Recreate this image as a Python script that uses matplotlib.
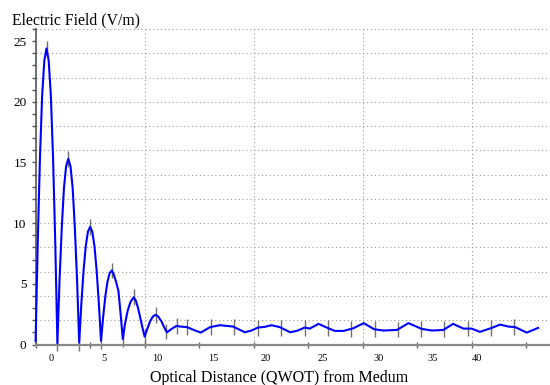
import matplotlib.pyplot as plt
import numpy as np

# field profile (x in QWOT, y in V/m)
dist = [0.0, 0.2, 0.4, 0.6, 0.8, 1.0, 1.2, 1.4, 1.6, 1.8, 2.0,
        2.2, 2.4, 2.6, 2.8, 3.0, 3.2, 3.4, 3.6, 3.8, 4.0,
        4.2, 4.4, 4.6, 4.8, 5.0, 5.2, 5.4, 5.6, 5.8, 6.0,
        6.2, 6.4, 6.6, 6.8, 7.0, 7.2, 7.4, 7.6, 7.8, 8.0,
        8.2, 8.45, 8.7, 9.0, 9.2, 9.4, 9.6, 9.8, 10.0,
        10.25, 10.5, 10.75, 11.0, 11.25, 11.55, 11.8, 12.05,
        12.5, 12.94, 13.25, 13.9, 14.5, 15.15, 16.0, 16.9, 18.1, 19.2,
        19.8, 20.4, 21.0, 21.65, 22.4, 23.35, 23.95, 24.7, 25.15, 25.95,
        26.85, 27.45, 28.25, 29.15, 30.1, 31.05, 31.9, 33.15, 34.2, 35.4,
        36.35, 37.4, 38.3, 39.25, 40.0, 40.75, 41.85, 42.6, 43.35, 44.0,
        45.05, 46.1]
field = [0.3, 8.5, 15.4, 20.5, 23.4, 24.4, 23.4, 20.5, 15.4, 8.5, 0.1,
         5.4, 9.6, 12.9, 14.7, 15.3, 14.7, 12.9, 9.6, 5.4, 0.15,
         3.4, 6.1, 8.1, 9.3, 9.7, 9.3, 8.1, 6.1, 3.4, 0.3,
         2.3, 4.0, 5.2, 5.9, 6.1, 5.7, 5.1, 4.4, 2.5, 0.45,
         1.7, 2.8, 3.5, 3.9, 3.6, 3.0, 2.2, 1.4, 0.65,
         1.3, 1.9, 2.3, 2.45, 2.3, 1.9, 1.4, 1.0,
         1.3, 1.54, 1.48, 1.43, 1.2, 0.98, 1.43, 1.59, 1.48, 1.01,
         1.15, 1.40, 1.45, 1.59, 1.43, 1.01, 1.12, 1.40, 1.31, 1.70,
         1.34, 1.12, 1.12, 1.34, 1.76, 1.26, 1.15, 1.20, 1.76, 1.29,
         1.15, 1.20, 1.70, 1.31, 1.31, 1.04, 1.37, 1.64, 1.48, 1.43,
         0.98, 1.37]

# layer boundaries (grey marks on the curve)
boundaries = [1, 2, 3, 4, 5, 6, 7, 8, 9, 10, 11, 12,
              12.94, 13.9, 16.07, 18.22, 20.37, 22.52, 24.67, 26.82, 28.97,
              31.1, 33.23, 35.37, 37.5, 39.64, 41.78, 43.92]

x_tick_labels = ['0', '5', '10', '15', '20', '25', '30', '35', '40']
y_tick_labels = ['0', '5', '10', '15', '20', '25']

# where the reference puts its x labels (shifted right of the tick marks)
x_label_pos = [1.39, 6.23, 11.19, 16.26, 21.08, 26.32, 31.51, 36.42, 40.51]

plt.rcParams['font.family'] = 'Liberation Serif'

fig = plt.figure(figsize=(5.5, 3.85), dpi=100)
ax = fig.add_axes([35.6 / 550, 40.5 / 385, 514 / 550, 315.5 / 385])
ax.set_xlim(0, 47.15)
ax.set_ylim(0, 26)

# dotted grid
grid_kw = dict(color='#9a9a9a', linestyle=(0, (1, 2.5)), linewidth=0.8, zorder=0)
for gy in range(2, 27, 2):
    ax.axhline(gy, **grid_kw)
for gx in range(10, 41, 10):
    ax.axvline(gx, **grid_kw)

# boundary marks
bx = np.array(boundaries, dtype=float)
by = np.interp(bx, dist, field)
ax.vlines(bx, by - 0.65, by + 0.65, color='#707070', linewidth=1.0,
          zorder=2, clip_on=False)

ax.plot(dist, field, color='#0000ff', linewidth=1.5, zorder=3, clip_on=False)

for s in ['top', 'right']:
    ax.spines[s].set_visible(False)
ax.spines['left'].set_color('#555555')
ax.spines['left'].set_linewidth(1.2)
ax.spines['bottom'].set_color('#888888')
ax.spines['bottom'].set_linewidth(1.6)

# y axis
ax.set_yticks(range(0, 26, 5))
ax.set_yticklabels(y_tick_labels)
ax.set_yticks(range(0, 27), minor=True)
ax.tick_params(axis='y', which='both', direction='out', length=3,
               width=1, color='#555555', labelsize=9.5, pad=3.5)

# x axis: tick marks at every 5, labels drawn where the reference has them
ax.set_xticks(x_label_pos)
ax.set_xticklabels(x_tick_labels)
ax.set_xticks(range(0, 46, 5), minor=True)
ax.tick_params(axis='x', which='major', length=0, labelsize=7.5, pad=7)
ax.tick_params(axis='x', which='minor', direction='inout', length=5,
               width=1, color='#666666')

fig.text(12 / 550, 1 - 24.3 / 385, 'Electric Field (V/m)', fontsize=11.3,
         ha='left', va='baseline')
fig.text(279 / 550, 3.5 / 385, 'Optical Distance (QWOT) from Medum',
         fontsize=11.5, ha='center', va='baseline')

fig.savefig('out.png', dpi=100)
